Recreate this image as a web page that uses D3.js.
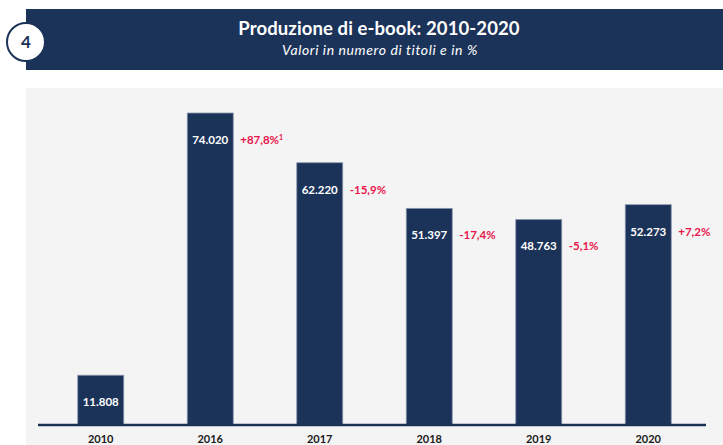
<!DOCTYPE html>
<html><head><meta charset="utf-8">
<script src="https://cdn.jsdelivr.net/npm/d3@7"></script>
<style>body{margin:0;background:#fff;}svg{display:block;}</style>
</head><body>
<script>
const years = ["2010","2016","2017","2018","2019","2020"];
const values = [11808, 74020, 62220, 51397, 48763, 52273];
const valueLabels = ["11.808","74.020","62.220","51.397","48.763","52.273"];
const changeLabels = ["", "+87,8%", "-15,9%", "-17,4%", "-5,1%", "+7,2%"];
const changeNotes = ["", "1", "", "", "", ""];
const title = "Produzione di e-book: 2010-2020";
const subtitle = "Valori in numero di titoli e in %";

const W = 723, H = 445;
const navy = "#1c3359", pink = "#e8144c";
const font = "Lato, 'Open Sans', sans-serif";
const svg = d3.select("body").append("svg").attr("width", W).attr("height", H);

// header
svg.append("rect").attr("x", 26).attr("y", 9).attr("width", W - 26).attr("height", 61).attr("fill", navy);
svg.append("circle").attr("cx", 26).attr("cy", 42).attr("r", 19).attr("fill", "#fff").attr("stroke", navy).attr("stroke-width", 2);
svg.append("text").attr("x", 26).attr("y", 48).attr("text-anchor", "middle").attr("font-family", font)
  .attr("font-weight", 700).attr("font-size", 17).attr("fill", navy).text("4");
svg.append("text").attr("x", 379).attr("y", 35).attr("text-anchor", "middle").attr("font-family", font)
  .attr("font-weight", 700).attr("font-size", 18.5).attr("letter-spacing", 0.1).attr("fill", "#fff").text(title);
svg.append("text").attr("x", 380).attr("y", 55).attr("text-anchor", "middle").attr("font-family", font)
  .attr("font-style", "italic").attr("font-size", 14).attr("letter-spacing", 0.6).attr("fill", "#fff").text(subtitle);

// chart panel
svg.append("rect").attr("x", 26).attr("y", 88).attr("width", W - 26).attr("height", H - 88).attr("fill", "#f4f4f4");

const x = d3.scaleBand().domain(years).range([46, 703]).paddingInner(0.58).paddingOuter(0.29);
const baseY = 425;
const y = d3.scaleLinear().domain([0, 74020]).range([baseY, 113]);

const g = svg.append("g");
g.selectAll("rect.bar").data(years).join("rect").attr("class", "bar")
  .attr("x", d => x(d)).attr("width", x.bandwidth())
  .attr("y", (d, i) => y(values[i])).attr("height", (d, i) => baseY - y(values[i]))
  .attr("fill", navy).attr("stroke", "#8a97ad").attr("stroke-width", 0.8);

g.selectAll("text.val").data(years).join("text").attr("class", "val")
  .attr("x", d => x(d) + x.bandwidth() / 2).attr("y", (d, i) => y(values[i]) + 31)
  .attr("text-anchor", "middle").attr("font-family", font).attr("font-weight", 700)
  .attr("font-size", 11.5).attr("fill", "#fff").text((d, i) => valueLabels[i]);

const ct = g.selectAll("text.chg").data(years).join("text").attr("class", "chg")
  .attr("x", d => x(d) + x.bandwidth() + 7).attr("y", (d, i) => y(values[i]) + 31)
  .attr("font-family", font).attr("font-weight", 700).attr("font-size", 11.5).attr("fill", pink);
ct.append("tspan").text((d, i) => changeLabels[i]);
ct.append("tspan").attr("dy", -4).attr("font-size", 7).text((d, i) => changeNotes[i]);

// axis
const axis = d3.axisBottom(x).tickSize(0).tickPadding(10);
const ag = svg.append("g").attr("transform", `translate(0,${baseY})`).call(axis);
ag.select(".domain").attr("d", `M38,0H706`).attr("stroke", navy).attr("stroke-width", 2.5);
ag.selectAll(".tick text").attr("font-family", font).attr("font-weight", 700).attr("font-size", 11).attr("fill", "#1a1a1a");
</script>
</body></html>
